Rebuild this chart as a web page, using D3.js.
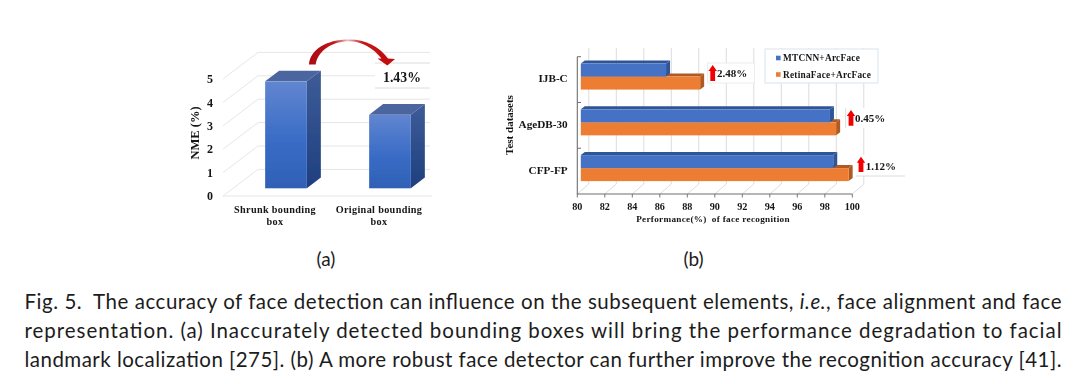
<!DOCTYPE html>
<html><head><meta charset="utf-8">
<script src="https://cdn.jsdelivr.net/npm/d3@7"></script>
<style>
html,body{margin:0;padding:0;background:#fff;overflow:hidden}
svg{display:block}
.b{font-family:"Liberation Serif",serif;font-weight:700;fill:#141414}
.cap{font-family:"Lato",sans-serif;fill:#1c1c1c}
</style></head><body>
<svg id="c" width="1080" height="384"></svg>
<script>
// chart (a)
const catsA = [["Shrunk bounding","box"],["Original bounding","box"]];
const nme = [4.57, 3.14];
const ticksA = [0,1,2,3,4,5];
const noteA = "1.43%";
// chart (b)
const catsB = ["IJB-C","AgeDB-30","CFP-FP"];
const mtcnn = [86.2, 98.12, 98.36];
const retina = [88.68, 98.57, 99.48];
const gains = ["2.48%","0.45%","1.12%"];
const ticksB = [80,82,84,86,88,90,92,94,96,98,100];
const seriesNames = ["MTCNN+ArcFace","RetinaFace+ArcFace"];
const subLabels = ["(a)","(b)"];
const caption = [
 [["Fig. 5.\u00A0 The accuracy of face detection can influence on the subsequent elements, ",0],["i.e.",1],[", face alignment and face",0]],
 [["representation. (a) Inaccurately detected bounding boxes will bring the performance degradation to facial",0]],
 [["landmark localization [275]. (b) A more robust face detector can further improve the recognition accuracy [41].",0]]
];

const svg = d3.select("#c");
const defs = svg.append("defs");
const lg=(id,stops)=>{const g=defs.append("linearGradient").attr("id",id).attr("x1",0).attr("x2",0).attr("y1",0).attr("y2",1);
  stops.forEach(([o,c])=>g.append("stop").attr("offset",o).attr("stop-color",c));};
lg("gf",[[0,"#6186d0"],[0.55,"#3a6cc6"],[1,"#2f60b6"]]);
lg("gs",[[0,"#3e5c98"],[1,"#1e3f7e"]]);
const ga=defs.append("linearGradient").attr("id","ga").attr("gradientUnits","userSpaceOnUse")
  .attr("x1",309).attr("x2",395).attr("y1",0).attr("y2",0);
[[0,"#a80c10"],[0.28,"#c01418"],[0.45,"#eebcbc"],[0.62,"#c41a1c"],[1,"#c00808"]]
  .forEach(([o,c])=>ga.append("stop").attr("offset",o).attr("stop-color",c));
defs.append("filter").attr("id","soft").attr("x","-5%").attr("y","-5%").attr("width","110%").attr("height","110%")
  .append("feGaussianBlur").attr("stdDeviation",0.35);
const poly=(g,pts,fill)=>g.append("polygon").attr("points",pts.map(p=>p.join(",")).join(" ")).attr("fill",fill);

/* ---------- chart (a) ---------- */
const A = svg.append("g").attr("filter","url(#soft)");
const yA = d3.scaleLinear().domain([0,5]).range([196,79]);
const xA = d3.scaleBand().domain(catsA.map(d=>d[0])).range([223,431]);
const wallA = {dx:35, dy:-26.6};
ticksA.forEach(t=>{
  const y=yA(t);
  A.append("path").attr("d",`M${xA.range()[0]},${y}L${xA.range()[0]+wallA.dx},${y+wallA.dy}H430`)
   .attr("fill","none").attr("stroke","#e6e6e6").attr("stroke-width",1);
});
A.append("line").attr("x1",223).attr("x2",432).attr("y1",yA(0)).attr("y2",yA(0)).attr("stroke","#e6e6e6");
const barA={w:41.7,shift:11,lift:7.7,dx:14,dy:-10.7};
catsA.forEach((c,i)=>{
  const x0=xA(c[0])+xA.bandwidth()/2+barA.shift-barA.w/2, x1=x0+barA.w;
  const yb=yA(0)-barA.lift, yt=yA(nme[i])-barA.lift;
  poly(A,[[x0,yt],[x1,yt],[x1+barA.dx,yt+barA.dy],[x0+barA.dx,yt+barA.dy]],"#4b659f");
  poly(A,[[x1,yt],[x1+barA.dx,yt+barA.dy],[x1+barA.dx,yb+barA.dy],[x1,yb]],"url(#gs)");
  A.append("rect").attr("x",x0).attr("y",yt).attr("width",barA.w).attr("height",yb-yt).attr("fill","url(#gf)");
  c.forEach((s,j)=>A.append("text").attr("class","b").attr("x",xA(c[0])+xA.bandwidth()/2).attr("y",213+j*12.3)
    .attr("text-anchor","middle").attr("font-size",10.2).attr("letter-spacing",0.35).text(s));
});
ticksA.forEach(t=>A.append("text").attr("class","b").attr("x",210).attr("y",yA(t)+4.2)
  .attr("text-anchor","middle").attr("font-size",12).text(t));
A.append("text").attr("class","b").attr("transform","translate(199,133) rotate(-90)")
  .attr("text-anchor","middle").attr("font-size",12.5).text("NME (%)");
// annotation
A.append("rect").attr("x",375).attr("y",63).attr("width",56).attr("height",25).attr("fill","#fff");
[63,88].forEach(y=>A.append("line").attr("x1",375).attr("x2",430).attr("y1",y).attr("y2",y).attr("stroke","#dcdcdc"));
A.append("text").attr("class","b").attr("x",402).attr("y",81.5).attr("text-anchor","middle")
  .attr("font-size",13.8).text(noteA);
// curved arrow: filled crescent
A.append("path").attr("fill","url(#ga)")
 .attr("d","M309,64.5 C310,50 326,39.5 349,39.5 C366,39.5 380,47 388,58.5 L395,59 L387.3,65.5 L377.5,58.5 L381.5,58.5 C373,48 362,41.5 349,41.3 C333,41.3 318,50 315.7,64.5 Z");

/* ---------- chart (b) ---------- */
const B = svg.append("g").attr("filter","url(#soft)");
const xB = d3.scaleLinear().domain([80,100]).range([577.3,852.3]);
const yB = d3.scaleBand().domain(catsB).range([56.7,194]);
const wallB={dx:11.5,dy:-10,top:48};
ticksB.forEach(t=>{
  const x=xB(t);
  B.append("path").attr("d",`M${x},194L${x+wallB.dx},${194+wallB.dy}V${wallB.top}`)
   .attr("fill","none").attr("stroke","#dcdcdc");
  B.append("line").attr("x1",x).attr("x2",x).attr("y1",194).attr("y2",197.5).attr("stroke","#777");
  B.append("text").attr("class","b").attr("x",x).attr("y",209.5).attr("text-anchor","middle").attr("font-size",10.2).text(t);
});
B.append("path").attr("d","M577.3,56.7V194H852.3").attr("fill","none").attr("stroke","#6e6e6e").attr("stroke-width",1.1);
[0,1,2].forEach(i=>B.append("line").attr("x1",577.3).attr("x2",581)
  .attr("y1",yB(catsB[i])).attr("y2",yB(catsB[i])).attr("stroke","#6e6e6e"));
const barB={h:13,shift:3.5,lift:3,dx:4,dy:-3};
const drawBar=(i,v,k,cf,cd)=>{
  const c=catsB[i], mid=yB(c)+yB.bandwidth()/2-barB.lift;
  const y0=mid+(k-1)*barB.h, y1=y0+barB.h;
  const x0=xB(80)+barB.shift, x1=xB(v)+barB.shift;
  poly(B,[[x0,y0],[x1,y0],[x1+barB.dx,y0+barB.dy],[x0+barB.dx,y0+barB.dy]],cd);
  poly(B,[[x1,y0],[x1+barB.dx,y0+barB.dy],[x1+barB.dx,y1+barB.dy],[x1,y1]],cd);
  B.append("rect").attr("x",x0).attr("y",y0).attr("width",x1-x0).attr("height",y1-y0).attr("fill",cf);
};
catsB.forEach((c,i)=>{
  drawBar(i,retina[i],1,"#ed7d31","#ae5a21");
  drawBar(i,mtcnn[i],0,"#4472c4","#2f5597");
  B.append("text").attr("class","b").attr("x",567.7).attr("y",yB(c)+yB.bandwidth()/2+2.5)
    .attr("text-anchor","end").attr("font-size",11.2).text(c);
});
B.append("text").attr("class","b").attr("transform","translate(512.5,125) rotate(-90)")
  .attr("text-anchor","middle").attr("font-size",11).text("Test datasets");
B.append("text").attr("class","b").attr("x",713).attr("y",222).attr("text-anchor","middle")
  .attr("font-size",9.2).attr("letter-spacing",0.3).text("Performance(%)\u00A0 of face recognition");
// legend
B.append("rect").attr("x",765).attr("y",49).attr("width",113).attr("height",34).attr("fill","#fff").attr("stroke","#d9e3ee");
const colors=["#4472c4","#ed7d31"];
seriesNames.forEach((s,i)=>{
  const y=58+i*16.5;
  B.append("rect").attr("x",776).attr("y",y-2.3).attr("width",4.6).attr("height",4.6).attr("fill",colors[i]);
  B.append("text").attr("class","b").attr("x",783).attr("y",y+3).attr("font-size",9.3).attr("letter-spacing",0.25).text(s);
});
// gain annotations
const upArrow=(cx,y0,y1)=>{
  const hw=4.2, sw=2.4, hh=6;
  B.append("path").attr("fill","#f00000").attr("d",
   `M${cx},${y0}L${cx+hw},${y0+hh}H${cx+sw}V${y1}H${cx-sw}V${y0+hh}H${cx-hw}Z`);
};
// 2.48%
B.append("rect").attr("x",707.5).attr("y",63).attr("width",47).attr("height",20).attr("fill","#fff").attr("stroke","#ececec");
upArrow(712.7,65,81);
B.append("text").attr("class","b").attr("x",717).attr("y",77).attr("font-size",11).text(gains[0]);
// 0.45%
B.append("rect").attr("x",846).attr("y",108).attr("width",42).attr("height",20).attr("fill","#fff");
B.append("line").attr("x1",845.7).attr("x2",845.7).attr("y1",108).attr("y2",128).attr("stroke","#dcdcdc");
upArrow(851,110,125.7);
B.append("text").attr("class","b").attr("x",855).attr("y",121.5).attr("font-size",11).text(gains[1]);
// 1.12%
B.append("rect").attr("x",856).attr("y",155).attr("width",50).attr("height",21).attr("fill","#fff");
B.append("line").attr("x1",856).attr("x2",905).attr("y1",176).attr("y2",176).attr("stroke","#dcdcdc");
upArrow(861,156.7,172);
B.append("text").attr("class","b").attr("x",865.7).attr("y",170).attr("font-size",11).text(gains[2]);

/* ---------- captions ---------- */
svg.selectAll("text.sub").data(subLabels).join("text").attr("class","sub cap")
  .attr("x",(d,i)=>[326,693.5][i]).attr("y",266).attr("text-anchor","middle").attr("font-size",19).text(d=>d);
caption.forEach((parts,i)=>{
  const t=svg.append("text").attr("class","cap").attr("x",24.5).attr("y",309+i*29).attr("font-size",20.5).attr("xml:space","preserve");
  parts.forEach(([s,it])=>t.append("tspan").attr("font-style",it?"italic":"normal").text(s));
  t.attr("textLength",1037).attr("lengthAdjust","spacing");
});
</script></body></html>
